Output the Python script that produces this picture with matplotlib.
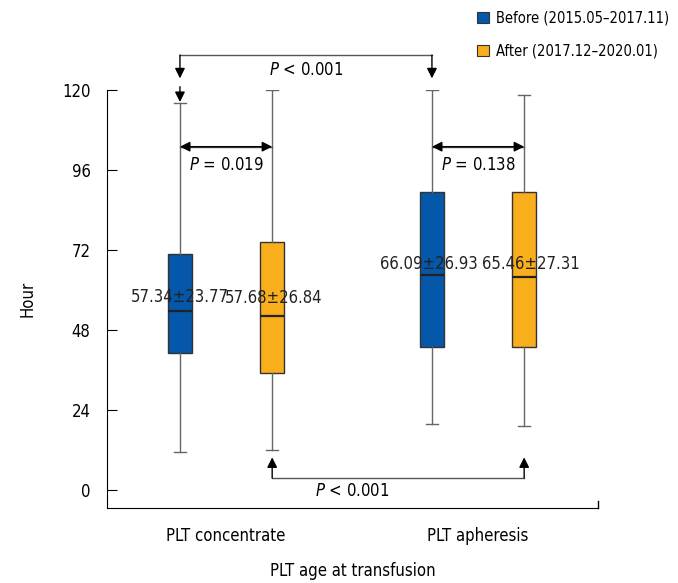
import matplotlib
matplotlib.use('Agg')
import matplotlib.pyplot as plt
from matplotlib.patches import Patch

plt.rcParams['font.family'] = ['DejaVu Sans']
plt.rcParams['font.stretch'] = 'condensed'
plt.rcParams['mathtext.fontset'] = 'custom'
plt.rcParams['mathtext.rm'] = 'DejaVu Sans:stretch=condensed'
plt.rcParams['mathtext.it'] = 'DejaVu Sans:italic:stretch=condensed'

# Data (hours)
groups = ['PLT concentrate', 'PLT apheresis']
periods = ['Before (2015.05\u20132017.11)', 'After (2017.12\u20132020.01)']
whislo = [11.4, 12.0, 19.8, 19.2]
q1 = [41.1, 35.1, 42.9, 42.9]
med = [53.7, 52.2, 64.5, 63.9]
q3 = [70.8, 74.4, 89.4, 89.4]
whishi = [116.2, 120.0, 120.0, 118.5]
mean_sd = ['57.34\u00b123.77', '57.68\u00b126.84', '66.09\u00b126.93', '65.46\u00b127.31']
p_within = ['0.019', '0.138']
p_between = ['0.001', '0.001']

blue = '#0457a9'
orange = '#f9ae1c'
colors = [blue, orange, blue, orange]
positions = [0.817, 1.183, 1.817, 2.183]

fig = plt.figure(figsize=(6.78, 5.83), dpi=100)
ax = fig.add_axes([0.158, 0.1286, 0.724, 0.717])

stats = []
for i in range(4):
    stats.append({'whislo': whislo[i], 'q1': q1[i], 'med': med[i],
                  'q3': q3[i], 'whishi': whishi[i], 'fliers': []})

bp = ax.bxp(stats, positions=positions, widths=0.095, patch_artist=True,
            showfliers=False,
            boxprops=dict(edgecolor='#333333', linewidth=1.0),
            medianprops=dict(color='#222222', linewidth=1.6),
            whiskerprops=dict(color='#666666', linewidth=1.0),
            capprops=dict(color='#666666', linewidth=1.0),
            capwidths=0.05)
for patch, c in zip(bp['boxes'], colors):
    patch.set_facecolor(c)

# mean +- SD labels
label_y = [58, 57.7, 67.8, 67.8]
label_x = [0.815, 1.19, 1.805, 2.21]
for x, y, s in zip(label_x, label_y, mean_sd):
    ax.text(x, y, s, ha='center', va='center', fontsize=12, color='#222222')

line_c = '#555555'
arrow = dict(arrowstyle='-|>,head_length=0.6,head_width=0.3', color='black',
             lw=1.0, shrinkA=0, shrinkB=0)

# within-group comparisons
for g in range(2):
    xa, xb = positions[2 * g], positions[2 * g + 1]
    ax.annotate('', xy=(xa, 103), xytext=(xb, 103),
                arrowprops=dict(arrowstyle='<|-|>,head_length=0.6,head_width=0.3',
                                color='black', lw=1.0, shrinkA=0, shrinkB=0))
    ax.plot([xa, xb], [103, 103], color=line_c, lw=1.0)
    ax.text((xa + xb) / 2, 97.4, '$\\it{P}$ = ' + p_within[g], ha='center',
            va='center', fontsize=12)

# top bracket: before vs before
xa, xb = positions[0], positions[2]
ax.plot([xa, xb], [130.5, 130.5], color=line_c, lw=1.0, clip_on=False)
for x in (xa, xb):
    ax.annotate('', xy=(x, 123.5), xytext=(x, 130.5), arrowprops=arrow,
                annotation_clip=False)
ax.annotate('', xy=(xa, 116.4), xytext=(xa, 121), arrowprops=arrow,
            annotation_clip=False)
ax.text((xa + xb) / 2, 126.0, '$\\it{P}$ < ' + p_between[0], ha='center',
        va='center', fontsize=12)

# bottom bracket: after vs after
xa, xb = positions[1], positions[3]
ax.plot([xa, xb], [3.6, 3.6], color=line_c, lw=1.0)
for x in (xa, xb):
    ax.annotate('', xy=(x, 9.8), xytext=(x, 3.6), arrowprops=arrow)
ax.text(1.5, -0.4, '$\\it{P}$ < ' + p_between[1], ha='center', va='center',
        fontsize=12)

ax.set_xlim(0.528, 2.476)
ax.set_ylim(-5.4, 120)
ax.set_yticks([0, 24, 48, 72, 96, 120])
ax.tick_params(axis='y', direction='in', length=7, labelsize=12, pad=12)
ax.set_xticks([1, 2])
ax.set_xticklabels(groups)
ax.tick_params(axis='x', length=0, labelsize=12, pad=14)
ax.spines['top'].set_visible(False)
ax.spines['right'].set_visible(False)
ax.plot([2.476, 2.476], [-5.4, -3.3], color='black', lw=1.0, clip_on=False)
ax.set_ylabel('Hour', fontsize=12, labelpad=18)
ax.set_xlabel('PLT age at transfusion', fontsize=12, labelpad=12)

handles = [Patch(facecolor=blue, edgecolor='#333333', lw=0.8),
           Patch(facecolor=orange, edgecolor='#333333', lw=0.8)]
fig.legend(handles, periods, loc='upper left', bbox_to_anchor=(0.703, 0.982),
           frameon=False, fontsize=10.5, handlelength=0.85, handleheight=0.85,
           handletextpad=0.5, labelspacing=1.25, borderpad=0,
           borderaxespad=0)

fig.savefig('out.png', dpi=100)
